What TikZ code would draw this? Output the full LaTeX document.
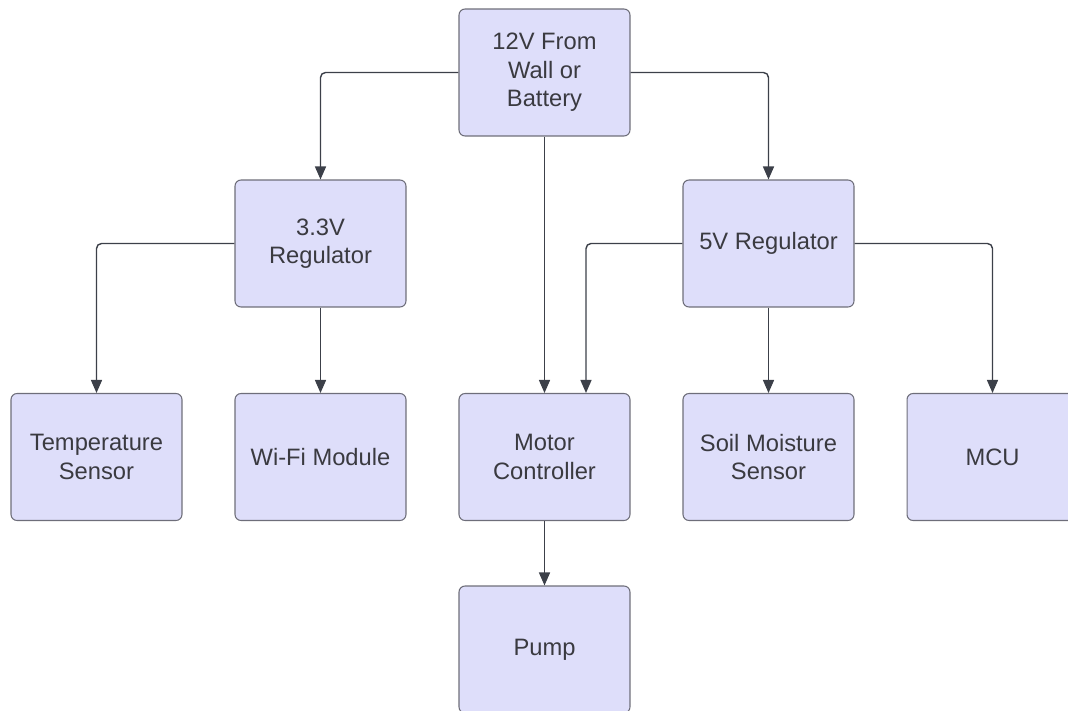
\documentclass[tikz,border=0pt]{standalone}
\usepackage{fontspec}
\setmainfont{Liberation Sans}
\usetikzlibrary{arrows.meta,positioning}
\definecolor{boxfill}{HTML}{DEDEFA}
\definecolor{boxline}{HTML}{6E6E7A}
\definecolor{wire}{HTML}{3C4049}
\definecolor{txt}{HTML}{3A3A40}

\begin{document}
\begin{tikzpicture}[x=0.02cm,y=-0.02cm,
every node/.style={rectangle,rounded corners=0.12cm,draw=boxline,fill=boxfill,
  line width=0.6pt,minimum width=3.42cm,minimum height=2.54cm,align=center,
  text=txt,font=\fontsize{13.5}{16.2}\selectfont},
wire/.style={draw=wire,line width=0.8pt,rounded corners=0.1cm,
  -{Triangle[length=0.26cm,width=0.22cm]}}]
\useasboundingbox (0,0) rectangle (1068,710);
\clip (0,0) rectangle (1068,710);
\node (P12) at (544.5,72.5) {12V From\\Wall or\\Battery};
\node (R33) at (320.5,243.5) {3.3V\\Regulator};
\node (R5) at (768.5,243.5) {5V Regulator};
\node (T) at (96.5,457) {Temperature\\Sensor};
\node (W) at (320.5,457) {Wi-Fi Module};
\node (M) at (544.5,457) {Motor\\Controller};
\node (S) at (768.5,457) {Soil Moisture\\Sensor};
\node (U) at (992.5,457) {MCU};
\node (P) at (544.5,649.5) {Pump};
\draw[wire] (P12.west) -| (R33.north);
\draw[wire] (P12.east) -| (R5.north);
\draw[wire] (P12.south) -- (M.north);
\draw[wire] (R33.west) -| (T.north);
\draw[wire] (R33.south) -- (W.north);
\draw[wire] (R5.west) -| ([xshift=0.83cm]M.north);
\draw[wire] (R5.south) -- (S.north);
\draw[wire] (R5.east) -| (U.north);
\draw[wire] (M.south) -- (P.north);
\end{tikzpicture}
\end{document}
